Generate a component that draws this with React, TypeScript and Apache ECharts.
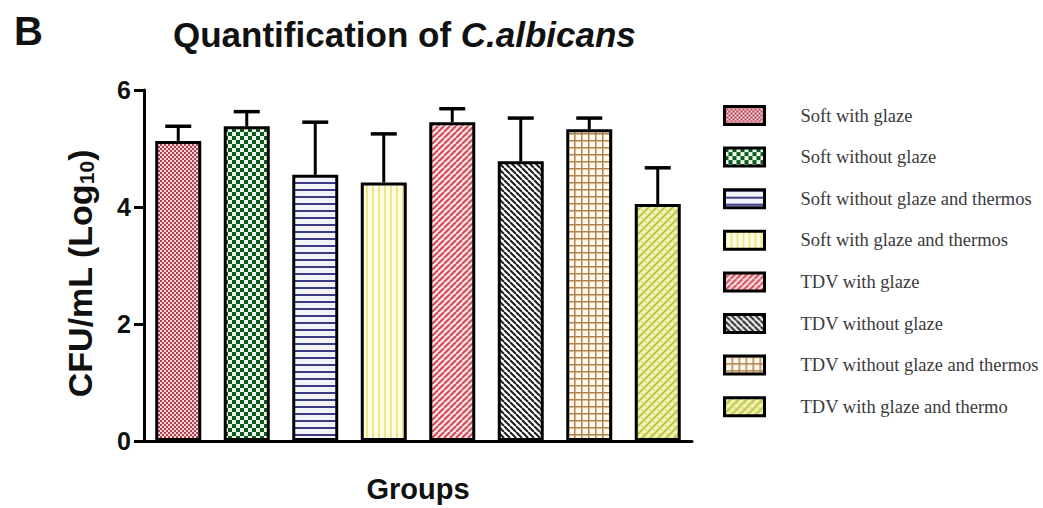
import React, { useEffect, useRef } from "react";
import * as echarts from "echarts";

const groups = [
  "Soft with glaze",
  "Soft without glaze",
  "Soft without glaze and thermos",
  "Soft with glaze and thermos",
  "TDV with glaze",
  "TDV without glaze",
  "TDV without glaze and thermos",
  "TDV with glaze and thermo",
];
const means = [5.13, 5.38, 4.55, 4.42, 5.45, 4.78, 5.33, 4.05];
const errors = [0.25, 0.25, 0.9, 0.83, 0.23, 0.74, 0.19, 0.62];
const yTicks = [0, 2, 4, 6];

type Draw = (ctx: CanvasRenderingContext2D, w: number, h: number) => void;

function makePattern(w: number, h: number, draw: Draw) {
  const c = document.createElement("canvas");
  c.width = w;
  c.height = h;
  const ctx = c.getContext("2d")!;
  draw(ctx, w, h);
  return { image: c.toDataURL(), repeat: "repeat", imageWidth: w, imageHeight: h };
}

function diag(ctx: CanvasRenderingContext2D, s: number, dir: 1 | -1, color: string, lw: number) {
  ctx.strokeStyle = color;
  ctx.lineWidth = lw;
  for (let k = -s; k <= s; k += s) {
    ctx.beginPath();
    if (dir === 1) {
      ctx.moveTo(k, s);
      ctx.lineTo(k + s, 0);
    } else {
      ctx.moveTo(k, 0);
      ctx.lineTo(k + s, s);
    }
    ctx.stroke();
  }
}

function buildPatterns() {
  return [
    makePattern(4, 4, (ctx) => {
      ctx.fillStyle = "#f6d8da";
      ctx.fillRect(0, 0, 4, 4);
      ctx.fillStyle = "#b4404e";
      ctx.fillRect(0, 0, 2, 2);
      ctx.fillRect(2, 2, 2, 2);
    }),
    makePattern(8, 8, (ctx) => {
      ctx.fillStyle = "#eef8ee";
      ctx.fillRect(0, 0, 8, 8);
      ctx.fillStyle = "#0b5a1c";
      ctx.fillRect(0, 0, 4, 4);
      ctx.fillRect(4, 4, 4, 4);
    }),
    makePattern(4, 7, (ctx) => {
      ctx.fillStyle = "#f2f2fa";
      ctx.fillRect(0, 0, 4, 7);
      ctx.fillStyle = "#3a3a88";
      ctx.fillRect(0, 0, 4, 2);
    }),
    makePattern(6, 4, (ctx) => {
      ctx.fillStyle = "#fffde6";
      ctx.fillRect(0, 0, 6, 4);
      ctx.fillStyle = "#efe88a";
      ctx.fillRect(0, 0, 2, 4);
    }),
    makePattern(6, 6, (ctx) => {
      ctx.fillStyle = "#fbe4e4";
      ctx.fillRect(0, 0, 6, 6);
      diag(ctx, 6, 1, "#d24a5a", 2);
    }),
    makePattern(6, 6, (ctx) => {
      ctx.fillStyle = "#ffffff";
      ctx.fillRect(0, 0, 6, 6);
      diag(ctx, 6, -1, "#1e1e1e", 2);
    }),
    makePattern(7, 7, (ctx) => {
      ctx.fillStyle = "#fff7ea";
      ctx.fillRect(0, 0, 7, 7);
      ctx.fillStyle = "#b0824e";
      ctx.fillRect(0, 0, 7, 1.5);
      ctx.fillRect(0, 0, 1.5, 7);
    }),
    makePattern(8, 8, (ctx) => {
      ctx.fillStyle = "#f2f3b4";
      ctx.fillRect(0, 0, 8, 8);
      diag(ctx, 8, -1, "#dfe38c", 1.5);
      diag(ctx, 8, 1, "#bcc448", 2);
    }),
  ];
}

export default function App() {
  const ref = useRef<HTMLDivElement>(null);
  useEffect(() => {
    if (!ref.current) return;
    const chart = echarts.init(ref.current, undefined, { renderer: "svg" });
    const patterns = buildPatterns();
    const barSeries = groups.map((g, i) => ({
      name: g,
      type: "bar",
      stack: "all",
      barWidth: 46,
      data: groups.map((_, j) => (j === i ? means[i] : "-")),
      itemStyle: { color: patterns[i], borderColor: "#000", borderWidth: 3 },
      z: 3,
    }));
    const option: any = {
      animation: false,
      backgroundColor: "#fff",
      title: [
        {
          text: "B",
          left: 9,
          top: 6,
          textStyle: { fontFamily: "Liberation Sans", fontWeight: "bold", fontSize: 40, color: "#111" },
        },
        {
          text: "{a|Quantification of }{b|C.albicans}",
          left: 168,
          top: 12,
          textStyle: {
            rich: {
              a: { fontFamily: "Liberation Sans", fontWeight: "bold", fontSize: 35, color: "#111" },
              b: { fontFamily: "Liberation Sans", fontWeight: "bold", fontStyle: "italic", fontSize: 35, color: "#111" },
            },
          },
        },
      ],
      legend: {
        orient: "vertical",
        left: 718,
        top: 100,
        icon: "rect",
        itemWidth: 40,
        itemHeight: 18,
        itemGap: 20.6,
        data: groups,
        selectedMode: false,
        itemStyle: { borderColor: "#000", borderWidth: 3 },
        textStyle: {
          fontFamily: "Liberation Serif",
          fontSize: 18.5,
          color: "#3a3a3a",
          padding: [0, 0, 0, 31],
        },
      },
      grid: { left: 144, right: 351, top: 90, bottom: 58 },
      xAxis: {
        type: "category",
        data: groups,
        name: "Groups",
        nameLocation: "middle",
        nameGap: 33,
        nameTextStyle: { fontFamily: "Liberation Sans", fontWeight: "bold", fontSize: 29, color: "#111" },
        axisLine: { lineStyle: { color: "#000", width: 3 } },
        axisTick: { alignWithLabel: true, length: 10, lineStyle: { color: "#000", width: 3 } },
        axisLabel: { show: false },
      },
      yAxis: {
        type: "value",
        min: yTicks[0],
        max: yTicks[yTicks.length - 1],
        interval: 2,
        name: "{a|CFU/mL (Log}{s|10}{a|)}",
        nameLocation: "middle",
        nameRotate: 90,
        nameGap: 47,
        nameTextStyle: {
          padding: [0, 16, 0, 0],
          rich: {
            a: { fontFamily: "Liberation Sans", fontWeight: "bold", fontSize: 34, color: "#111" },
            s: {
              fontFamily: "Liberation Sans",
              fontWeight: "bold",
              fontSize: 21,
              color: "#111",
              verticalAlign: "bottom",
              padding: [12, 0, 0, 0],
            },
          },
        },
        splitLine: { show: false },
        axisLine: { show: true, lineStyle: { color: "#000", width: 3 } },
        axisTick: { show: true, length: 10, lineStyle: { color: "#000", width: 3 } },
        axisLabel: {
          fontFamily: "Liberation Sans",
          fontWeight: "bold",
          fontSize: 25,
          color: "#111",
          margin: 13,
        },
      },
      series: [
        ...barSeries,
        {
          type: "custom",
          name: "error",
          z: 2,
          data: groups.map((_, i) => [i, means[i], errors[i]]),
          renderItem: (params: any, api: any) => {
            const base = api.coord([api.value(0), api.value(1)]);
            const top = api.coord([api.value(0), api.value(1) + api.value(2)]);
            const half = 13;
            return {
              type: "group",
              children: [
                {
                  type: "line",
                  shape: { x1: base[0], y1: base[1], x2: top[0], y2: top[1] },
                  style: { stroke: "#000", lineWidth: 3 },
                },
                {
                  type: "line",
                  shape: { x1: top[0] - half, y1: top[1], x2: top[0] + half, y2: top[1] },
                  style: { stroke: "#000", lineWidth: 3.5 },
                },
              ],
            };
          },
        },
      ],
    };
    chart.setOption(option);
    return () => chart.dispose();
  }, []);
  return (
    <div
      ref={ref}
      style={{ position: "fixed", left: 0, top: 0, width: 1043, height: 508, background: "#fff" }}
    />
  );
}
